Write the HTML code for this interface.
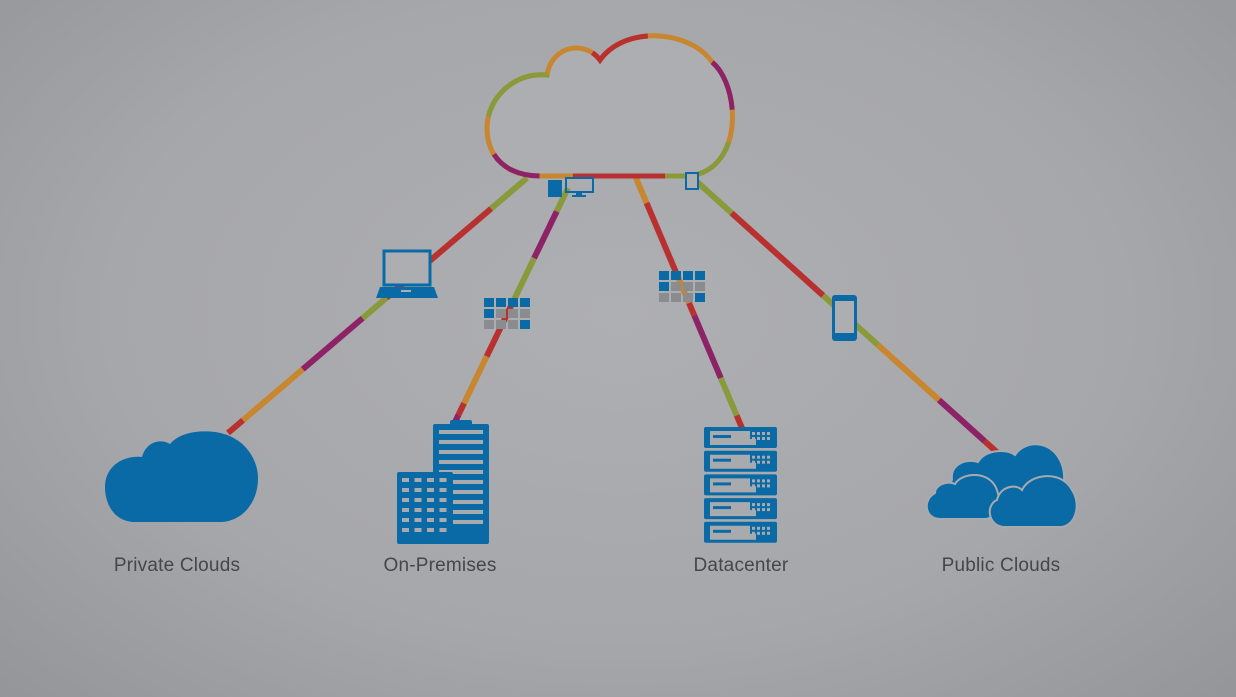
<!DOCTYPE html>
<html><head><meta charset="utf-8"><style>
html,body{margin:0;padding:0;width:1236px;height:697px;overflow:hidden}
body{background:radial-gradient(ellipse 75% 85% at 50% 45%,#aeafb3 0%,#a6a7ab 55%,#919296 100%);font-family:"Liberation Sans",sans-serif}
.lbl{position:absolute;top:555px;font-size:19px;color:#45464c;width:200px;text-align:center;letter-spacing:0.2px}
</style></head><body>
<svg id="s" width="1236" height="697" style="position:absolute;left:0;top:0">
<g id="lines" stroke-width="6" stroke-linecap="butt" fill="none"></g>
<!-- top cloud -->
<path id="cl" d="M540 176 L690 176 C745 168 740 85 712 62 C690 30 625 25 600 60 C585 40 552 45 547 75 C512 72 487 100 487 128 C487 158 508 176 540 176 Z" fill="#adaeb2" stroke="#c8862f" stroke-width="5"/>
<path d="M540 176 L690 176 C745 168 740 85 712 62 C690 30 625 25 600 60 C585 40 552 45 547 75 C512 72 487 100 487 128 C487 158 508 176 540 176 Z" fill="none" stroke="#b8312f" stroke-width="5" pathLength="100" stroke-dasharray="0 5 14 36 10 35"/>
<path d="M540 176 L690 176 C745 168 740 85 712 62 C690 30 625 25 600 60 C585 40 552 45 547 75 C512 72 487 100 487 128 C487 158 508 176 540 176 Z" fill="none" stroke="#8a9a3a" stroke-width="5" pathLength="100" stroke-dasharray="0 19 12 43 12 14"/>
<path d="M540 176 L690 176 C745 168 740 85 712 62 C690 30 625 25 600 60 C585 40 552 45 547 75 C512 72 487 100 487 128 C487 158 508 176 540 176 Z" fill="none" stroke="#8e2266" stroke-width="5" pathLength="100" stroke-dasharray="0 36 8 48 8 0"/>
<!-- small devices under cloud -->
<rect x="548" y="180" width="14" height="17" fill="#0a6aa6"/>
<rect x="566" y="178" width="27" height="14" fill="none" stroke="#0a6aa6" stroke-width="2"/>
<rect x="576" y="192" width="6" height="3" fill="#0a6aa6"/><rect x="572" y="195" width="14" height="2" fill="#0a6aa6"/>
<rect x="686" y="173" width="12" height="16" fill="#adaeb2" stroke="#0a6aa6" stroke-width="2"/>
<!-- laptop -->
<rect x="384" y="251" width="46" height="34" fill="#adaeb2" stroke="#0a6aa6" stroke-width="3"/>
<path d="M380 287 L434 287 L438 298 L376 298 Z" fill="#0a6aa6"/>
<rect x="401" y="290" width="10" height="2" fill="#adaeb2"/>
<!-- grids -->
<g id="g1"></g>
<!-- phone -->
<rect x="832" y="295" width="25" height="46" rx="3" fill="#0a6aa6"/>
<rect x="835" y="301" width="19" height="32" fill="#adaeb2"/>
<!-- private cloud -->
<path d="M135 522 C115 522 105 505 105 487 C105 465 125 455 142 457 C146 442 160 438 170 444 C180 432 200 430 215 432 C245 436 258 460 258 478 C258 505 240 522 220 522 Z" fill="#0a6aa6"/>
<!-- building -->
<rect x="433" y="424" width="56" height="120" rx="2" fill="#0a6aa6"/>
<rect x="450" y="420" width="22" height="6" rx="2" fill="#0a6aa6"/>
<g id="bl"></g>
<rect x="397" y="472" width="56" height="72" rx="2" fill="#0a6aa6" stroke="#a9aaae" stroke-width="0"/>
<g id="bw"></g>
<!-- servers -->
<g id="sv"></g>
<!-- public clouds -->
<path d="M965 510 C945 510 940 490 952 480 C950 465 965 458 978 462 C985 450 1005 448 1015 455 C1025 440 1050 440 1060 460 C1068 475 1065 500 1045 510 Z" fill="#0a6aa6" stroke="#a9aaae" stroke-width="2"/>
<path d="M940 519 C925 519 922 500 935 493 C935 485 948 480 955 484 C962 472 990 470 997 490 C1002 505 995 519 985 519 Z" fill="#0a6aa6" stroke="#a9aaae" stroke-width="2"/>
<path d="M1005 527 C988 527 985 505 997 500 C1000 487 1015 483 1022 490 C1030 473 1062 470 1072 490 C1082 505 1075 527 1060 527 Z" fill="#0a6aa6" stroke="#a9aaae" stroke-width="2"/>
</svg>
<div class="lbl" style="left:77px">Private Clouds</div>
<div class="lbl" style="left:340px">On-Premises</div>
<div class="lbl" style="left:641px">Datacenter</div>
<div class="lbl" style="left:901px">Public Clouds</div>
<script>
var NS="http://www.w3.org/2000/svg";
function el(p,t,a){var e=document.createElementNS(NS,t);for(var k in a)e.setAttribute(k,a[k]);p.appendChild(e);return e;}
var C={r:"#b8312f",o:"#c8862f",g:"#8a9a3a",p:"#8e2266"};
var L=document.getElementById("lines");
function seg(x1,y1,x2,y2,spec){var t=0;spec.forEach(function(s){var a=t,b=t+s[1];el(L,"line",{x1:x1+(x2-x1)*a,y1:y1+(y2-y1)*a,x2:x1+(x2-x1)*b,y2:y1+(y2-y1)*b,stroke:C[s[0]]});t=b;});}
seg(527,178,228,433,[["g",0.12],["r",0.25],["r",0.1],["g",0.08],["p",0.2],["o",0.2],["r",0.05]]);
seg(568,188,455,422,[["g",0.1],["p",0.2],["g",0.2],["r",0.22],["o",0.2],["r",0.05],["p",0.03]]);
seg(636,178,742,428,[["o",0.1],["r",0.28],["o",0.12],["r",0.05],["p",0.25],["g",0.15],["r",0.05]]);
seg(695,180,1000,455,[["g",0.12],["r",0.3],["g",0.1],["g",0.08],["o",0.2],["p",0.15],["r",0.05]]);
var g=document.getElementById("g1");
function grid(x,y,pat){for(var r=0;r<3;r++)for(var c=0;c<4;c++){var b=pat[r][c]=="b";el(g,"rect",{x:x+c*12,y:y+r*11,width:10,height:9,fill:b?"#0a6aa6":"#8b8c90"});}}
grid(484,298,["bbbb","bggg","gggb"]);
grid(659,271,["bbbb","bggg","gggb"]);
var bl=document.getElementById("bl");
for(var i=0;i<10;i++)el(bl,"rect",{x:439,y:430+i*10,width:44,height:4,fill:"#a9aaae"});
var bw=document.getElementById("bw");
for(var r=0;r<6;r++)for(var c=0;c<4;c++)el(bw,"rect",{x:402+c*12.5,y:478+r*10,width:7,height:4,fill:"#a9aaae"});
var sv=document.getElementById("sv");
for(var i=0;i<5;i++){var y=427+i*23.7;el(sv,"rect",{x:704,y:y,width:73,height:21,rx:2,fill:"#0a6aa6"});
el(sv,"path",{d:"M710 "+(y+4)+" h40 v8 h6 v6 h-46 Z",fill:"#a9aaae"});
el(sv,"rect",{x:713,y:y+8,width:18,height:3,fill:"#0a6aa6"});
for(var a=0;a<2;a++)for(var b=0;b<4;b++)el(sv,"rect",{x:752+b*5,y:y+5+a*5,width:3,height:3,fill:"#a9aaae"});}
</script>
</body></html>
